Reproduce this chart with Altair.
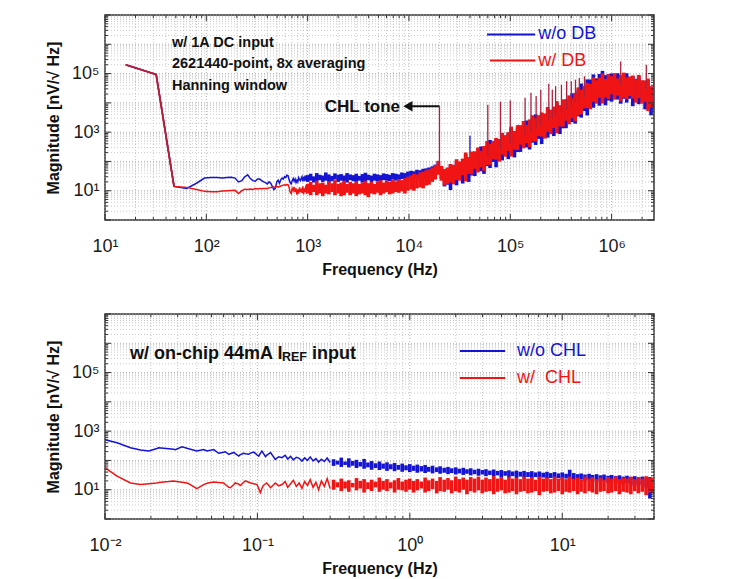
import altair as alt
import pandas as pd
import math

FONT = "Liberation Sans"
BLUE = "#1414d2"
RED = "#f01414"
MIX = "#b0203c"
GRID_MINOR = "#bdbdbd"
GRID_MAJOR = "#a0a0a0"
INK = "#111111"
W, H = 549, 205

# ---------------- top panel (w/ 1A DC input) ----------------
top_xdom = [10, 2621440]
top_ydom = [1, 10000000]
top_xlabels = [10, 100, 1000, 10000, 100000, 1000000]
ylabels = [10, 1000, 100000]

top_low_f = [16, 32, 48, 64, 80, 96, 112, 128, 144, 160, 176, 192, 208, 224, 240, 256,
             272, 288, 304, 320, 336, 352, 368, 384, 400, 416, 432, 448, 464, 480, 496,
             512, 528, 544, 560, 576, 592, 608, 624, 640, 656, 672, 688, 704, 720, 736,
             752, 768, 784, 800, 816, 832, 848, 864, 880, 896, 912, 928, 944, 960, 976, 992]
top_low_blue = [200000, 93000, 14, 12, 18, 27, 28, 28, 27, 28, 29, 27, 20, 22, 30, 35,
                26, 22, 21, 25, 25, 22, 20, 19, 17, 20, 18, 14, 11, 12, 20,
                23, 18, 24, 27, 25, 30, 28, 34, 33, 24, 19, 17, 22, 26, 21,
                25, 19, 23, 20, 28, 24, 22, 26, 30, 21, 27, 24, 33, 22, 29, 25]
top_low_red = [200000, 93000, 14, 13, 11, 9.5, 9.2, 9.3, 9.8, 10, 10.2, 10.3, 8, 10, 11.3, 11,
               11.5, 11, 11.8, 11.5, 12, 11.6, 11.9, 11.8, 12, 12.5, 12.8, 13, 13.5, 13, 14,
               13.2, 14, 14.5, 15, 15.5, 16, 15.5, 16.2, 16, 13, 9, 8, 12, 10, 13.5,
               9, 12, 7.4, 11, 8, 13, 9, 11.8, 8.5, 14, 7.5, 12, 9, 15, 8, 12]

top_band_f = [1000, 1070, 1150, 1230, 1320, 1410, 1510, 1620, 1740, 1860,
              2000, 2140, 2290, 2450, 2630, 2820, 3020, 3240, 3470, 3720,
              3980, 4270, 4570, 4900, 5250, 5620, 6030, 6460, 6920, 7410,
              7940, 8510, 9120, 9770, 10500, 11200, 12000, 12900, 13800, 14800,
              15800, 17000, 18200, 19500, 20900, 22400, 24000, 25700, 27500, 29500,
              31600, 33900, 36300, 38900, 41700, 44700, 47900, 51300, 55000, 58900,
              63100, 67600, 72400, 77600, 83200, 89100, 95500, 102000, 110000, 118000,
              126000, 135000, 145000, 155000, 166000, 178000, 191000, 204000, 219000, 234000,
              251000, 269000, 288000, 309000, 331000, 355000, 380000, 407000, 437000, 468000,
              501000, 537000, 575000, 617000, 661000, 708000, 759000, 813000, 871000, 933000,
              1000000, 1070000, 1150000, 1230000, 1320000, 1410000, 1510000, 1620000, 1740000, 1860000,
              2000000, 2140000, 2290000, 2450000]
top_red_lo = [8, 7, 9, 7, 8, 6.5, 8, 7.5, 9, 7,
              8, 6.5, 7, 8.5, 7, 8, 6.5, 7.5, 8, 7,
              6, 8, 7.5, 8.5, 7, 8, 9, 7.5, 8, 9,
              8.5, 9.5, 8, 10, 11, 10, 12, 13, 12, 15,
              16, 20, 24, 35, 22, 15, 17, 19, 16.5, 23,
              22, 34, 21, 38, 36, 56, 42, 64, 48, 75,
              77, 118, 115, 98, 172, 145, 228, 147, 252, 243,
              375, 280, 418, 310, 480, 475, 732, 700, 600, 1035,
              850, 1380, 910, 1575, 1530, 2440, 1840, 2970, 2300, 3800,
              4050, 6490, 6600, 6000, 10900, 9350, 15000, 9450, 15200, 13500,
              19400, 12800, 17600, 11200, 15000, 13200, 17100, 14000, 10100, 14400,
              9350, 10800, 5250, 6800]
top_red_hi = [17, 20, 16, 22, 18, 19, 16, 21, 18, 23,
              17, 19, 22, 17, 20, 18, 21, 17, 19, 22,
              18, 20, 17, 21, 23, 19, 22, 20, 24, 21,
              25, 23, 27, 30, 33, 38, 36, 42, 45, 50,
              55, 62, 75, 105, 70, 55, 62, 82, 76, 119,
              99, 125, 202, 139, 218, 209, 300, 232, 336, 494,
              396, 500, 638, 578, 950, 792, 1000, 1550, 1070, 1725,
              1615, 2400, 1760, 2730, 3770, 2970, 3800, 4730, 4250, 7250,
              5850, 7500, 11500, 8200, 13200, 12350, 18000, 14400, 22000, 33800,
              27900, 37000, 48400, 44200, 75000, 59400, 72000, 100000, 65600, 94300,
              80750, 103000, 68000, 88200, 108000, 73800, 80000, 85800, 64600, 90000,
              59400, 58000, 67500, 36900]
top_blue_lo = [20, 22, 19, 21, 23, 20, 22, 19, 21, 24,
               20, 22, 21, 19, 23, 21, 20, 22, 19, 21,
               23, 20, 22, 21, 20, 23, 22, 21, 24, 22,
               23, 25, 24, 26, 24, 26, 25, 27, 28, 30,
               30, 32, 36, 40, 25, 14, 16, 10.5, 19, 15.3,
               25, 17.6, 27.5, 20, 33, 31.7, 49.6, 46, 37.5, 69,
               59.5, 96, 63, 105, 108, 162, 120, 181, 137, 210,
               211, 330, 300, 255, 437, 365, 588, 392, 672, 648,
               1000, 736, 1155, 864, 1350, 1364, 2183, 2200, 1950, 3450,
               3145, 5280, 3710, 6720, 6840, 11000, 8000, 12100, 8280, 12000,
               11000, 15340, 13000, 9375, 13800, 10200, 13800, 7700, 11000, 9000,
               11250, 6000, 6600, 3744]
top_blue_hi = [34, 38, 31, 40, 35, 33, 42, 36, 32, 39,
               35, 37, 33, 40, 36, 34, 38, 32, 37, 41,
               35, 33, 38, 36, 34, 39, 37, 35, 40, 38,
               36, 42, 40, 45, 48, 46, 52, 50, 56, 58,
               62, 68, 78, 100, 65, 50, 58, 78, 76, 106,
               80, 121, 176, 135, 175, 220, 196, 325, 270, 340,
               540, 377, 598, 570, 840, 640, 945, 1365, 1080, 1350,
               1705, 1530, 2500, 2115, 2600, 4050, 2790, 4485, 4275, 6240,
               4720, 7140, 9880, 8100, 10500, 13200, 11900, 21250, 18900, 27000,
               45900, 36080, 63250, 62700, 93600, 68000, 96600, 123500, 88200, 96000,
               101200, 74800, 102500, 72000, 78000, 102600, 61500, 82800, 66500, 79200,
               48000, 56700, 59800, 36000]

top_red_spike_f = [20000, 60000, 80000, 100000, 140000, 160000, 180000, 200000, 240000, 260000,
                   280000, 320000, 360000, 400000, 440000, 480000, 540000, 1230000, 2200000, 2600000]
top_red_spike_base = [70, 150, 250, 400, 800, 1000, 1300, 1700, 2500, 3000,
                      3600, 4500, 6000, 8000, 10000, 12000, 16000, 40000, 30000, 6000]
top_red_spike_top = [7600, 8700, 11000, 12000, 15000, 22000, 17000, 28000, 45000, 28000,
                     37000, 42000, 55000, 55000, 62000, 71000, 81000, 260000, 200000, 10000000]
top_blue_spike_f = [40000, 120000]
top_blue_spike_base = [60, 600]
top_blue_spike_top = [750, 1800]

top_notes = ["w/ 1A DC input", "2621440-point, 8x averaging", "Hanning window"]
top_notes_f = [45.8, 45.8, 45.8]
top_notes_v = [1150000, 220000, 39000]
top_legend_labels = ["w/o DB", "w/ DB"]
top_legend_f1 = [59000, 63000]
top_legend_f2 = [176000, 176000]
top_legend_ftext = [180000, 180000]
top_legend_v = [2170000, 279000]

# ---------------- bottom panel (on-chip 44mA I_REF input) ----------------
bot_xdom = [0.01, 40]
bot_ydom = [1, 10000000]
bot_xlabels = [0.01, 0.1, 1, 10]

bot_low_f = [0.0100, 0.0103, 0.0120, 0.0147, 0.0171, 0.0194, 0.0219, 0.0225, 0.0262, 0.0282,
             0.0289, 0.0320, 0.0345, 0.0354, 0.0400, 0.0444, 0.0467, 0.0516, 0.0557, 0.0600,
             0.0616, 0.0649, 0.0664, 0.0700, 0.0716, 0.0754, 0.0772, 0.0813, 0.0834, 0.0877,
             0.0900, 0.0946, 0.0995, 0.102, 0.1045, 0.107, 0.109, 0.113, 0.115, 0.122,
             0.131, 0.138, 0.145, 0.152, 0.158, 0.165, 0.172, 0.180, 0.188, 0.196,
             0.204, 0.213, 0.222, 0.232, 0.242, 0.252, 0.263, 0.275, 0.287, 0.300]
bot_low_blue = [525, 485, 400, 270, 226, 209, 255, 270, 251, 240,
                234, 294, 260, 251, 209, 234, 209, 234, 175, 190,
                198, 162, 170, 187, 170, 141, 158, 175, 168, 162,
                178, 193, 155, 141, 175, 209, 180, 134, 150, 187,
                109, 134, 124, 150, 112, 138, 105, 128, 118, 95,
                122, 100, 132, 96, 115, 88, 110, 92, 120, 85]
bot_low_red = [55, 50, 29, 17, 15, 16, 17, 17.5, 19, 20,
               19.5, 18, 17, 16, 10.8, 15, 16.5, 18.4, 17.5, 17,
               15, 12, 11.7, 15, 17, 15.5, 14, 18, 20, 18,
               17, 16, 15, 11, 7.9, 11, 13.6, 16, 17, 11.7,
               17, 13.6, 15, 19, 12, 16, 21, 13, 17, 11,
               19, 14, 22, 12, 18, 10, 20, 13, 24, 11]

bot_band_f = [0.316, 0.335, 0.355, 0.376, 0.398, 0.422, 0.447, 0.473, 0.501, 0.531,
              0.562, 0.596, 0.631, 0.668, 0.708, 0.750, 0.794, 0.841, 0.891, 0.944,
              1.00, 1.06, 1.12, 1.19, 1.26, 1.33, 1.41, 1.50, 1.58, 1.68,
              1.78, 1.88, 2.00, 2.11, 2.24, 2.37, 2.51, 2.66, 2.82, 2.99,
              3.16, 3.35, 3.55, 3.76, 3.98, 4.22, 4.47, 4.73, 5.01, 5.31,
              5.62, 5.96, 6.31, 6.68, 7.08, 7.50, 7.94, 8.41, 8.91, 9.44,
              10.0, 10.6, 11.2, 11.9, 12.6, 13.3, 14.1, 15.0, 15.8, 16.8,
              17.8, 18.8, 20.0, 21.1, 22.4, 23.7, 25.1, 26.6, 28.2, 29.9,
              31.6, 33.5, 35.5, 37.6, 39.8]
bot_red_lo = [10, 12, 9, 11, 8.5, 12, 9.5, 11, 8, 10.5,
              9, 12, 8.5, 10, 9, 11, 8, 10, 9.5, 8.5,
              10, 8, 9.5, 11, 8, 9, 10.5, 7.5, 9, 8.5,
              10, 7.5, 9, 8, 10, 7, 9, 8, 9.5, 7.5,
              8.5, 9, 7, 8.5, 9.5, 7.5, 8, 9, 7, 8.5,
              9, 7.5, 8, 9, 6.5, 8.5, 9, 7.5, 8, 9,
              7, 8.5, 8, 9, 7, 8.5, 7.5, 9, 8, 7,
              8.5, 9, 7.5, 8, 9, 7, 8.5, 8, 7, 9,
              7.5, 8.5, 6.5, 8, 7.5]
bot_red_hi = [22, 18, 24, 19, 21, 17, 25, 20, 23, 18,
              22, 19, 26, 20, 23, 18, 21, 25, 19, 22,
              24, 20, 23, 19, 26, 21, 24, 20, 27, 22,
              25, 21, 28, 23, 26, 22, 27, 24, 28, 22,
              26, 23, 29, 24, 27, 22, 28, 24, 26, 23,
              28, 24, 27, 22, 28, 24, 26, 23, 28, 24,
              27, 23, 28, 24, 26, 23, 28, 24, 27, 23,
              26, 22, 27, 24, 28, 23, 26, 24, 28, 23,
              27, 24, 29, 25, 26]
bot_blue_lo = [65, 72, 60, 70, 58, 66, 55, 62, 52, 58,
               48, 55, 47, 52, 44, 50, 43, 48, 41, 46,
               40, 44, 38, 42, 37, 41, 36, 40, 35, 38,
               34, 37, 33, 36, 32, 35, 31, 34, 30, 33,
               29, 32, 28, 31, 27, 30, 26, 29, 25, 28,
               25, 27, 24, 27, 23, 26, 23, 25, 22, 25,
               22, 24, 23, 22, 21, 23, 20, 22, 19, 21,
               18, 20, 17, 19, 16, 18, 15, 17, 14, 16,
               13, 15, 12, 5, 11]
bot_blue_hi = [110, 98, 125, 92, 118, 96, 105, 88, 112, 85,
               95, 80, 92, 78, 86, 74, 82, 70, 78, 68,
               75, 66, 72, 64, 70, 60, 66, 58, 63, 56,
               60, 54, 58, 52, 56, 50, 54, 48, 52, 47,
               50, 45, 49, 44, 47, 43, 46, 42, 45, 41,
               44, 40, 43, 39, 42, 38, 41, 37, 40, 36,
               39, 35, 48, 37, 34, 36, 33, 35, 32, 34,
               31, 33, 30, 32, 29, 31, 28, 30, 27, 29,
               26, 28, 25, 27, 24]

bot_legend_labels = ["w/o CHL", "w/\u00a0 CHL"]
bot_legend_f1 = [2.13, 2.13]
bot_legend_f2 = [4.22, 4.22]
bot_legend_ftext = [4.9, 4.9]
bot_legend_v = [540000, 65000]

# ---------------- helpers ----------------
SUP = {"-": "\u207b", "0": "\u2070", "1": "\u00b9", "2": "\u00b2", "3": "\u00b3",
       "4": "\u2074", "5": "\u2075", "6": "\u2076", "7": "\u2077", "8": "\u2078", "9": "\u2079"}


def sup(e):
    return "".join(SUP[c] for c in str(e))


def label_expr(vals):
    expr = "''"
    for v in vals:
        e = int(round(math.log10(v)))
        expr = f"abs(datum.value / {float(v)!r} - 1) < 1e-6 ? '10{sup(e)}' : ({expr})"
    return expr


def log_ticks(e0, e1, lo, hi, majors_only=False):
    vals = []
    for e in range(e0, e1 + 1):
        for m in ([1] if majors_only else range(1, 10)):
            v = round(m * 10.0 ** e, 12)
            if lo * (1 - 1e-9) <= v <= hi * (1 + 1e-9):
                vals.append(v)
    return vals


def make_axis(vals, title, is_x):
    return alt.Axis(values=vals, labelExpr=label_expr(vals), title=title,
                    grid=False, ticks=False, domain=False, labelFont=FONT, labelFontSize=18,
                    labelColor="#1a1a1a", labelPadding=17 if is_x else 6,
                    labelOverlap=False, labelFlush=False,
                    titleFont=FONT, titleFontSize=16, titleFontWeight="bold",
                    titleColor=INK, titlePadding=6 if is_x else 10)


def build_panel(xdom, ydom, xexp, xlabels, low_f, low_b, low_r, band_f,
                rlo, rhi, blo, bhi, spikes_r, spikes_b, extra_layers_fn):
    xs = alt.Scale(type="log", domain=xdom, nice=False)
    ys = alt.Scale(type="log", domain=ydom, nice=False)

    xall = log_ticks(xexp[0], xexp[1], xdom[0], xdom[1])
    yall = log_ticks(0, 7, ydom[0], ydom[1])
    xmaj = log_ticks(xexp[0], xexp[1], xdom[0], xdom[1], True)
    ymaj = log_ticks(0, 7, ydom[0], ydom[1], True)
    xmin = [v for v in xall if v not in xmaj]
    ymin = [v for v in yall if v not in ymaj]
    xaxis = make_axis(xlabels, "Frequency (Hz)", True)
    yaxis = make_axis(ylabels, "Magnitude [nV/\u221a Hz]", False)

    def xe(f):
        return alt.X(f, type="quantitative", scale=xs, axis=xaxis)

    def ye(f):
        return alt.Y(f, type="quantitative", scale=ys, axis=yaxis)

    band = pd.DataFrame({"f": band_f, "rlo": rlo, "rhi": rhi, "blo": blo, "bhi": bhi})
    low = pd.DataFrame({"f": low_f, "blue": low_b, "red": low_r})

    layers = []
    # dotted grid (minor and major)
    for vals, col in ((xmin, GRID_MINOR), (xmaj, GRID_MAJOR)):
        d = pd.DataFrame({"v": vals})
        layers.append(alt.Chart(d).mark_rule(color=col, strokeWidth=0.8, strokeDash=[1, 2]).encode(
            x=xe("v"), y=alt.value(0), y2=alt.value(H)))
    for vals, col in ((ymin, GRID_MINOR), (ymaj, GRID_MAJOR)):
        d = pd.DataFrame({"v": vals})
        layers.append(alt.Chart(d).mark_rule(color=col, strokeWidth=0.8, strokeDash=[1, 2]).encode(
            y=ye("v"), x=alt.value(0), x2=alt.value(W)))

    layers.append(alt.Chart(band).mark_rule(color=BLUE, strokeWidth=3.6, clip=True).encode(
        x=xe("f"), y=ye("blo"), y2=alt.Y2("bhi")))
    layers.append(alt.Chart(low).mark_line(color=BLUE, strokeWidth=1.5, clip=True).encode(
        x=xe("f"), y=ye("blue")))
    if spikes_b is not None:
        layers.append(alt.Chart(spikes_b).mark_rule(color=BLUE, strokeWidth=1.3, clip=True).encode(
            x=xe("f"), y=ye("base"), y2=alt.Y2("top")))
    layers.append(alt.Chart(low).mark_line(color=RED, strokeWidth=1.5, clip=True).encode(
        x=xe("f"), y=ye("red")))
    layers.append(alt.Chart(band).mark_rule(color=RED, strokeWidth=3.6, clip=True).encode(
        x=xe("f"), y=ye("rlo"), y2=alt.Y2("rhi")))
    if spikes_r is not None:
        layers.append(alt.Chart(spikes_r).mark_rule(color=MIX, strokeWidth=1.3, clip=True).encode(
            x=xe("f"), y=ye("base"), y2=alt.Y2("top")))
    layers += extra_layers_fn(xe, ye, low)

    # inward ticks
    for vals, L in ((xmaj, 6), (xmin, 3)):
        d = pd.DataFrame({"v": vals})
        b = alt.Chart(d).mark_rule(color="#333333", strokeWidth=1)
        layers.append(b.encode(x=xe("v"), y=alt.value(H), y2=alt.value(H - L)))
        layers.append(b.encode(x=xe("v"), y=alt.value(0), y2=alt.value(L)))
    for vals, L in ((ymaj, 6), (ymin, 3)):
        d = pd.DataFrame({"v": vals})
        b = alt.Chart(d).mark_rule(color="#333333", strokeWidth=1)
        layers.append(b.encode(y=ye("v"), x=alt.value(0), x2=alt.value(L)))
        layers.append(b.encode(y=ye("v"), x=alt.value(W), x2=alt.value(W - L)))
    return alt.layer(*layers).properties(width=W, height=H)


def legend_layers(xe, ye, labels, f1, f2, ft, v, fsize):
    d = pd.DataFrame({"label": labels, "f1": f1, "f2": f2, "ft": ft, "v": v,
                      "c": ["blue", "red"]})
    cscale = alt.Scale(domain=["blue", "red"], range=[BLUE, RED])
    tscale = alt.Scale(domain=["blue", "red"], range=["#2a2aa8", "#d42a2a"])
    lines = alt.Chart(d).mark_rule(strokeWidth=2).encode(
        x=xe("f1"), x2=alt.X2("f2"), y=ye("v"),
        color=alt.Color("c:N", scale=cscale, legend=None))
    texts = alt.Chart(d).mark_text(align="left", baseline="middle", font=FONT,
                                   fontSize=fsize, dx=2).encode(
        x=xe("ft"), y=ye("v"), text="label:N",
        color=alt.Color("c:N", scale=tscale, legend=None))
    return [lines, texts]


def top_extra(xe, ye, low):
    out = []
    shared = low[low["f"] <= 48]
    out.append(alt.Chart(shared).mark_line(color=MIX, strokeWidth=1.8, clip=True).encode(
        x=xe("f"), y=ye("red")))
    notes = pd.DataFrame({"t": top_notes, "f": top_notes_f, "v": top_notes_v})
    out.append(alt.Chart(notes).mark_text(align="left", baseline="middle", font=FONT,
                                          fontSize=14.5, fontWeight="bold", color=INK).encode(
        x=xe("f"), y=ye("v"), text="t:N"))
    tone = pd.DataFrame({"t": ["CHL tone"], "f": [8170], "v": [7400]})
    out.append(alt.Chart(tone).mark_text(align="right", baseline="middle", font=FONT,
                                         fontSize=17, fontWeight="bold", color=INK).encode(
        x=xe("f"), y=ye("v"), text="t:N"))
    arrow = pd.DataFrame({"f1": [9770], "f2": [20000], "v": [7600]})
    out.append(alt.Chart(arrow).mark_rule(color=INK, strokeWidth=2).encode(
        x=xe("f1"), x2=alt.X2("f2"), y=ye("v")))
    out.append(alt.Chart(arrow).mark_point(shape="triangle-left", filled=True, color=INK,
                                           size=110, opacity=1).encode(
        x=xe("f1"), y=ye("v")))
    out += legend_layers(xe, ye, top_legend_labels, top_legend_f1, top_legend_f2,
                         top_legend_ftext, top_legend_v, 18)
    return out


def bot_extra(xe, ye, low):
    out = []
    t1 = pd.DataFrame({"t": ["w/ on-chip 44mA I"], "f": [0.0146], "v": [280000]})
    out.append(alt.Chart(t1).mark_text(align="left", baseline="alphabetic", font=FONT,
                                       fontSize=18, fontWeight="bold", color=INK).encode(
        x=xe("f"), y=ye("v"), text="t:N"))
    t2 = pd.DataFrame({"t": ["REF"], "f": [0.145], "v": [250000]})
    out.append(alt.Chart(t2).mark_text(align="left", baseline="alphabetic", font=FONT,
                                       fontSize=12.5, fontWeight="bold", color=INK).encode(
        x=xe("f"), y=ye("v"), text="t:N"))
    t3 = pd.DataFrame({"t": ["input"], "f": [0.228], "v": [280000]})
    out.append(alt.Chart(t3).mark_text(align="left", baseline="alphabetic", font=FONT,
                                       fontSize=18, fontWeight="bold", color=INK).encode(
        x=xe("f"), y=ye("v"), text="t:N"))
    out += legend_layers(xe, ye, bot_legend_labels, bot_legend_f1, bot_legend_f2,
                         bot_legend_ftext, bot_legend_v, 18)
    return out


top_spikes_r = pd.DataFrame({"f": top_red_spike_f, "base": top_red_spike_base, "top": top_red_spike_top})
top_spikes_b = pd.DataFrame({"f": top_blue_spike_f, "base": top_blue_spike_base, "top": top_blue_spike_top})

top = build_panel(top_xdom, top_ydom, (1, 6), top_xlabels,
                  top_low_f, top_low_blue, top_low_red, top_band_f,
                  top_red_lo, top_red_hi, top_blue_lo, top_blue_hi,
                  top_spikes_r, top_spikes_b, top_extra)

bottom = build_panel(bot_xdom, bot_ydom, (-2, 1), bot_xlabels,
                     bot_low_f, bot_low_blue, bot_low_red, bot_band_f,
                     bot_red_lo, bot_red_hi, bot_blue_lo, bot_blue_hi,
                     None, None, bot_extra)

chart = alt.vconcat(top, bottom, spacing=34).properties(
    padding={"left": 36, "top": 5, "right": 5, "bottom": 0},
    background="white",
).configure_view(stroke="#333333", strokeWidth=1.5)

chart.save("out.html", embed_options={"renderer": "svg", "actions": False})
